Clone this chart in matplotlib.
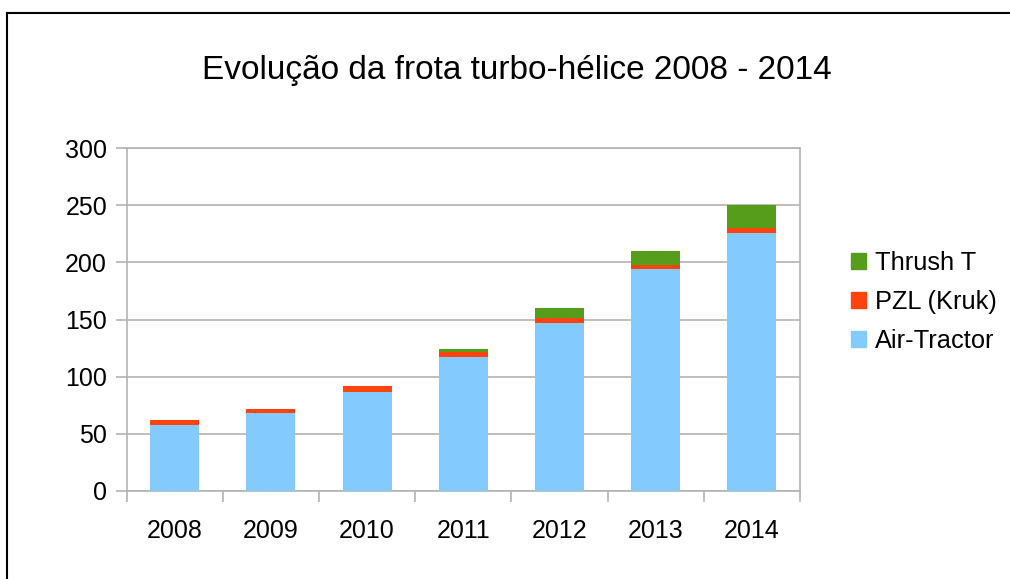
import matplotlib.pyplot as plt
import numpy as np
from matplotlib.lines import Line2D
from matplotlib.patches import Patch

plt.rcParams["font.family"] = ["Liberation Sans", "DejaVu Sans"]

# data
years = ["2008", "2009", "2010", "2011", "2012", "2013", "2014"]
air_tractor = [58, 68, 87, 117, 147, 194, 226]
pzl_kruk = [4, 4, 5, 5, 4, 4, 4]
thrush_t = [0, 0, 0, 2, 9, 12, 20]

c_air = "#83caff"
c_pzl = "#ff420e"
c_thrush = "#579d1c"
c_grid = "#b3b3b3"

fig = plt.figure(figsize=(10.1, 5.79), dpi=100)
ax = fig.add_axes([126.5 / 1010, 88 / 579, 673.5 / 1010, 343 / 579])

x = np.arange(len(years))
w = 0.51
air = np.array(air_tractor)
pzl = np.array(pzl_kruk)
ax.bar(x, air, w, color=c_air, zorder=3)
ax.bar(x, pzl, w, bottom=air, color=c_pzl, zorder=3)
ax.bar(x, thrush_t, w, bottom=air + pzl, color=c_thrush, zorder=3)

ax.set_xlim(-0.5, len(years) - 0.5)
ax.set_ylim(0, 300)
ax.set_yticks(range(0, 301, 50))
ax.yaxis.grid(True, color=c_grid, linewidth=1.2, zorder=0)
ax.set_axisbelow(True)

ax.set_xticks(x)
ax.set_xticklabels(years)
ax.set_xticks(np.arange(-0.5, len(years), 1), minor=True)
ax.tick_params(axis="x", which="major", length=0, pad=20, labelsize=18)
ax.tick_params(axis="x", which="minor", length=8, width=1.2, color=c_grid, direction="out")
ax.tick_params(axis="y", length=8, width=1.2, color=c_grid, pad=6, labelsize=18)

for s in ax.spines.values():
    s.set_color(c_grid)
    s.set_linewidth(1.2)

fig.text(516.5 / 1010, 1 - 71 / 579, "Evolução da frota turbo-hélice 2008 - 2014",
         ha="center", va="center", fontsize=24)

handles = [Patch(color=c_thrush), Patch(color=c_pzl), Patch(color=c_air)]
labels = ["Thrush T", "PZL (Kruk)", "Air-Tractor"]
fig.legend(handles, labels, loc="center left", bbox_to_anchor=(851 / 1010, 1 - 302 / 579),
           frameon=False, fontsize=18.3, handlelength=0.6, handleheight=0.6,
           handletextpad=0.36, labelspacing=0.6, borderpad=0, borderaxespad=0)

# outer frame (top and left edges only visible)
fig.add_artist(Line2D([7 / 1010, 1], [1 - 13 / 579, 1 - 13 / 579], color="black", linewidth=1.5))
fig.add_artist(Line2D([7 / 1010, 7 / 1010], [0, 1 - 13 / 579], color="black", linewidth=1.5))

fig.savefig("out.png", dpi=100)
